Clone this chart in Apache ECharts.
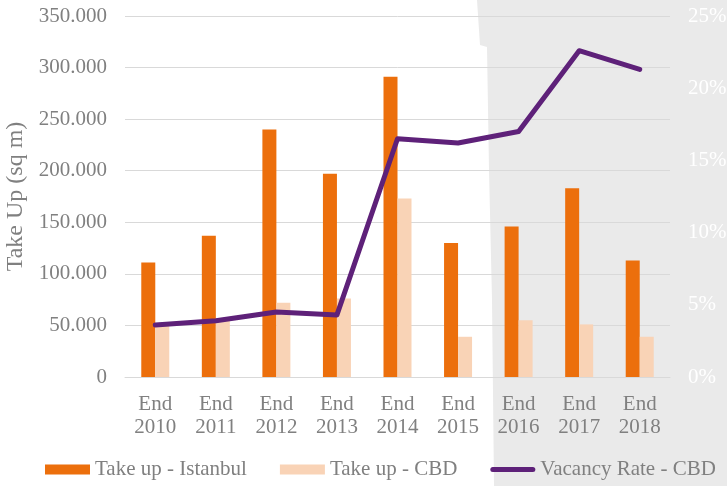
<!DOCTYPE html>
<html>
<head>
<meta charset="utf-8">
<script src="https://cdn.jsdelivr.net/npm/echarts@6/dist/echarts.min.js"></script>
<style>
html,body{margin:0;padding:0;background:#fff;}
#c{width:727px;height:486px;}
</style>
</head>
<body>
<div id="c"></div>
<script>
var categories = ['End\n2010','End\n2011','End\n2012','End\n2013','End\n2014','End\n2015','End\n2016','End\n2017','End\n2018'];
var takeUpIstanbul = [111000, 137000, 240000, 197000, 291000, 130000, 146000, 183000, 113000];
var takeUpCBD = [51000, 55000, 72000, 76000, 173000, 39000, 55000, 51000, 39000];
var vacancyCBD = [3.6, 3.9, 4.5, 4.3, 16.5, 16.2, 17.0, 22.6, 21.3];
var seriesNames = ['Take up - Istanbul', 'Take up - CBD', 'Vacancy Rate - CBD'];

var chart = echarts.init(document.getElementById('c'), null, {renderer:'canvas'});
var font = '"Liberation Serif", "Times New Roman", serif';
var gray = '#808080';
function fmt(v){ return v === 0 ? '0' : String(v).replace(/\B(?=(\d{3})+(?!\d))/g, '.'); }

chart.setOption({
  animation: false,
  backgroundColor: '#ffffff',
  graphic: [{
    type: 'polygon',
    z: -10,
    silent: true,
    shape: {points: [[477,0],[480,45],[487,47],[489,170],[492,300],[494,486],[727,486],[727,0]]},
    style: {fill: '#eaeaea'}
  }],
  grid: {left: 125, right: 57, top: 16, bottom: 109, containLabel: false, outerBoundsMode: 'none'},
  legend: {
    top: 459, left: 45, padding: 0,
    itemWidth: 45, itemHeight: 10, itemGap: 33,
    textStyle: {fontFamily: font, fontSize: 21, color: gray},
    data: [
      {name: seriesNames[0], icon: 'rect'},
      {name: seriesNames[1], icon: 'rect'},
      {name: seriesNames[2], icon: 'path://M2.5,0 L42.5,0 A2.5,2.5 0 0 1 42.5,5 L2.5,5 A2.5,2.5 0 0 1 2.5,0 Z'}
    ]
  },
  xAxis: {
    type: 'category',
    data: categories,
    axisLine: {show: true, lineStyle: {color: '#d9d9d9', width: 1}},
    axisTick: {show: false},
    axisLabel: {fontFamily: font, fontSize: 21, color: gray, lineHeight: 23, margin: 16, interval: 0}
  },
  yAxis: [{
    type: 'value',
    min: 0, max: 350000, interval: 50000,
    name: 'Take Up (sq m)',
    nameLocation: 'middle',
    nameGap: 94,
    nameRotate: 90,
    nameTextStyle: {fontFamily: font, fontSize: 24, color: gray},
    axisLine: {show: false},
    axisTick: {show: false},
    axisLabel: {fontFamily: font, fontSize: 21, color: gray, margin: 18, formatter: fmt},
    splitLine: {lineStyle: {color: '#d9d9d9', width: 1}}
  }, {
    type: 'value',
    min: 0, max: 25, interval: 5,
    axisLine: {show: false},
    axisTick: {show: false},
    axisLabel: {fontFamily: font, fontSize: 21, color: '#ffffff', margin: 18, formatter: '{value}%'},
    splitLine: {show: false}
  }],
  series: [{
    name: seriesNames[0],
    type: 'bar',
    data: takeUpIstanbul,
    barWidth: 14,
    barGap: '0%',
    itemStyle: {color: '#ec6f0c'}
  }, {
    name: seriesNames[1],
    type: 'bar',
    data: takeUpCBD,
    barWidth: 14,
    barGap: '0%',
    itemStyle: {color: '#f9d3b6'}
  }, {
    name: seriesNames[2],
    type: 'line',
    yAxisIndex: 1,
    data: vacancyCBD,
    symbol: 'none',
    showSymbol: false,
    z: 5,
    lineStyle: {color: '#5e2179', width: 5, cap: 'round', join: 'round'},
    itemStyle: {color: '#5e2179'}
  }]
});
</script>
</body>
</html>
